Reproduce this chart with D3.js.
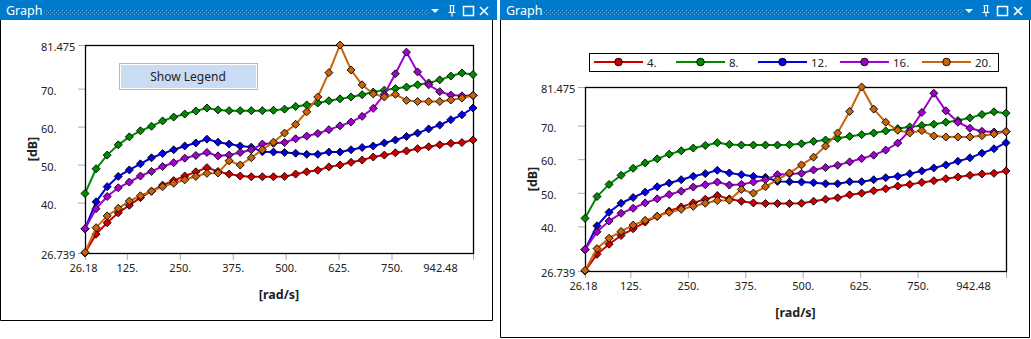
<!DOCTYPE html>
<html><head><meta charset="utf-8">
<script src="https://cdn.jsdelivr.net/npm/d3@7"></script>
<style>
body{margin:0;background:#fff;}
svg text{font-family:"Noto Sans","Open Sans",sans-serif;}
</style>
</head><body>
<svg id="c" width="1031" height="339"></svg>
<script>
// ---- data ----
const xValues = [26.18,52.36,78.54,104.72,130.90,157.08,183.26,209.44,235.62,261.80,287.98,314.16,
  340.34,366.52,392.70,418.88,445.06,471.24,497.42,523.60,549.78,575.96,602.14,628.32,
  654.50,680.68,706.86,733.04,759.22,785.40,811.58,837.76,863.94,890.12,916.30,942.48];
const xTickValues = [26.18,125,250,375,500,625,750,942.48];
const xTickLabels = ["26.18","125.","250.","375.","500.","625.","750.","942.48"];
const yTickValues = [26.739,40,50,60,70,81.475];
const yTickLabels = ["26.739","40.","50.","60.","70.","81.475"];
const seriesNames = ["4.","8.","12.","16.","20."];
const series4  = [26.739,31.7,34.7,37.3,39.3,41.3,43.0,44.6,45.8,47.0,48.1,49.2,48.2,47.5,47.0,46.8,46.8,46.8,
  46.9,47.5,48.1,48.5,49.4,49.9,50.6,51.2,52.0,52.5,53.1,53.6,54.2,54.7,55.2,55.6,55.8,56.5];
const series8  = [42.4,48.9,52.5,55.2,57.3,58.9,60.1,61.5,62.5,63.3,64.1,64.9,64.4,64.2,64.2,64.2,64.2,64.3,
  64.6,65.3,65.7,66.2,66.8,67.3,67.8,68.4,69.1,69.6,70.0,70.4,71.0,71.5,72.3,73.3,74.1,73.7];
const series12 = [33.1,40.2,44.2,46.9,48.6,50.2,51.8,52.9,53.9,54.9,55.7,56.7,55.9,55.4,54.9,54.6,53.4,53.3,
  53.2,53.0,52.7,52.7,53.3,53.3,53.9,54.5,54.9,55.7,56.5,57.4,58.3,59.4,60.4,61.8,63.1,64.9];
const series16 = [33.1,38.4,41.6,43.9,45.4,47.0,48.2,49.5,50.5,51.7,52.4,53.2,52.3,52.5,53.2,53.9,55.4,55.6,
  55.8,56.8,57.5,58.2,59.2,60.2,61.2,62.7,64.8,68.5,73.9,79.6,74.4,71.0,69.2,68.3,68.1,68.2];
const series20 = [26.9,33.4,36.5,38.5,40.4,41.8,43.0,44.2,45.1,46.0,46.9,47.7,47.8,51.0,49.9,51.8,53.9,55.9,
  58.3,60.6,63.9,67.8,74.2,81.475,74.9,71.0,68.6,67.8,68.5,66.9,66.6,66.6,66.6,67.0,67.5,68.2];
const allSeries = [series4, series8, series12, series16, series20];
const seriesColors = ["#cc0000","#008a00","#0000e0","#a000d0","#c8640a"];

const svg = d3.select("#c");
svg.append("rect").attr("width",1031).attr("height",339).attr("fill","#fff");

// dotted pattern for title bar
const defs = svg.append("defs");
const pat = defs.append("pattern").attr("id","dots").attr("width",4).attr("height",4)
  .attr("patternUnits","userSpaceOnUse");
pat.append("rect").attr("width",4).attr("height",4).attr("fill","#007acc");
pat.append("rect").attr("x",0).attr("y",0).attr("width",1).attr("height",1).attr("fill","#5fa8e0");
pat.append("rect").attr("x",2).attr("y",2).attr("width",1).attr("height",1).attr("fill","#5fa8e0");

function titleBar(x0, x1){
  const g = svg.append("g");
  g.append("rect").attr("x",x0).attr("y",0).attr("width",x1-x0).attr("height",20).attr("fill","#007acc");
  g.append("text").attr("x",x0+6).attr("y",15).attr("fill","#fff").attr("font-size",12.5).text("Graph");
  g.append("rect").attr("x",x0+44).attr("y",9).attr("width",(x1-68)-(x0+44)).attr("height",6).attr("fill","url(#dots)");
  // dropdown triangle
  const tx = x1-62;
  g.append("path").attr("d",`M${tx-4},9 L${tx+4},9 L${tx},13 Z`).attr("fill","#fff");
  // pin
  const px = x1-45;
  g.append("path").attr("d",`M${px-2.5},5.5 L${px+2.5},5.5 M${px-1.5},5.5 L${px-1.5},12 M${px+1.5},5.5 L${px+1.5},12 M${px-3.5},12.5 L${px+3.5},12.5 M${px},12.5 L${px},16.5`)
    .attr("stroke","#fff").attr("stroke-width",1.2).attr("fill","none");
  // maximize square
  g.append("rect").attr("x",x1-33.5).attr("y",6.5).attr("width",10).attr("height",9)
    .attr("fill","none").attr("stroke","#fff").attr("stroke-width",1.5);
  // close
  const cx = x1-13;
  g.append("path").attr("d",`M${cx-4},7 L${cx+4},15 M${cx+4},7 L${cx-4},15`)
    .attr("stroke","#fff").attr("stroke-width",1.6);
}

function frame(x0, x1, y1){
  svg.append("path").attr("d",`M${x0+0.5},20 L${x0+0.5},${y1+0.5} L${x1+0.5},${y1+0.5} L${x1+0.5},20`)
    .attr("fill","none").attr("stroke","#000").attr("stroke-width",1);
}

function chart(L, R, T, B){
  const x = d3.scaleLinear().domain([xTickValues[0], xTickValues[xTickValues.length-1]]).range([L, R]);
  const y = d3.scaleLinear().domain([yTickValues[0], yTickValues[yTickValues.length-1]]).range([B, T]);
  const g = svg.append("g");

  // x axis ticks
  const xa = g.append("g").attr("transform",`translate(0,${B})`)
    .call(d3.axisBottom(x).tickValues(xTickValues).tickSize(7).tickSizeOuter(0)
      .tickFormat((d,i)=>xTickLabels[i]));
  xa.select(".domain").remove();
  xa.selectAll(".tick line").attr("stroke","#aaa");
  xa.selectAll(".tick text").attr("font-size",11).attr("fill","#222").attr("y",11)
    .attr("dx",(d,i)=> i===xTickValues.length-1 ? -33 : (i===0 ? -2 : 0));

  // y axis ticks
  const ya = g.append("g").attr("transform",`translate(${L},0)`)
    .call(d3.axisLeft(y).tickValues(yTickValues).tickSize(7).tickSizeOuter(0)
      .tickFormat((d,i)=>yTickLabels[i]));
  ya.select(".domain").remove();
  ya.selectAll(".tick line").attr("stroke","#aaa");
  ya.selectAll(".tick text").attr("font-size",11).attr("fill","#222")
    .attr("text-anchor","start").attr("x",-44).attr("dy","0.5em");

  // plot box
  g.append("rect").attr("x",L+0.5).attr("y",T+0.5).attr("width",R-L).attr("height",B-T)
    .attr("fill","none").attr("stroke","#000").attr("stroke-width",1.3);

  // axis titles
  g.append("text").attr("x",(L+R)/2).attr("y",B+46).attr("text-anchor","middle")
    .attr("font-weight","bold").attr("font-size",12.5).attr("fill","#222").text("[rad/s]");
  g.append("text").attr("transform",`translate(${L-48},${(T+B)/2}) rotate(-90)`)
    .attr("text-anchor","middle").attr("font-weight","bold").attr("font-size",12.5).attr("fill","#222").text("[dB]");

  const line = d3.line().x((d,i)=>x(xValues[i])).y(d=>y(d));
  allSeries.forEach((s,si)=>{
    const sg = g.append("g");
    sg.append("path").attr("d",line(s)).attr("fill","none")
      .attr("stroke",seriesColors[si]).attr("stroke-width",2);
    sg.selectAll("path.m").data(s).join("path").attr("class","m")
      .attr("transform",(d,i)=>`translate(${x(xValues[i])},${y(d)})`)
      .attr("d","M0,-4 L4,0 L0,4 L-4,0 Z")
      .attr("fill",seriesColors[si]).attr("stroke","#000").attr("stroke-width",0.9);
  });
}

// left panel
titleBar(0, 497);
frame(0, 492, 320);
chart(85, 473, 45, 253);
// Show Legend button
const btn = svg.append("g");
btn.append("rect").attr("x",119.5).attr("y",63.5).attr("width",138).attr("height",26)
  .attr("fill","#fff").attr("stroke","#f0b43c").attr("stroke-width",1);
btn.append("rect").attr("x",121).attr("y",65).attr("width",135).attr("height",23).attr("fill","#c9dcf3");
btn.append("text").attr("x",188).attr("y",80.5).attr("text-anchor","middle").attr("font-size",12)
  .attr("fill","#222").text("Show Legend");

// right panel
titleBar(500, 1031);
frame(500, 1029, 337);
chart(585, 1006, 87, 271);
// legend
const lg = svg.append("g");
lg.append("rect").attr("x",589.5).attr("y",53.5).attr("width",409).attr("height",18)
  .attr("fill","#fff").attr("stroke","#000").attr("stroke-width",1);
seriesNames.forEach((n,i)=>{
  const ox = 594 + i*82;
  lg.append("line").attr("x1",ox).attr("x2",ox+49).attr("y1",62).attr("y2",62)
    .attr("stroke",seriesColors[i]).attr("stroke-width",2);
  lg.append("circle").attr("cx",ox+24.5).attr("cy",62).attr("r",3.8)
    .attr("fill",seriesColors[i]).attr("stroke","#000").attr("stroke-width",0.9);
  lg.append("text").attr("x",ox+53).attr("y",66.5).attr("font-size",11.5).attr("fill","#222").text(n);
});
</script>
</body></html>
